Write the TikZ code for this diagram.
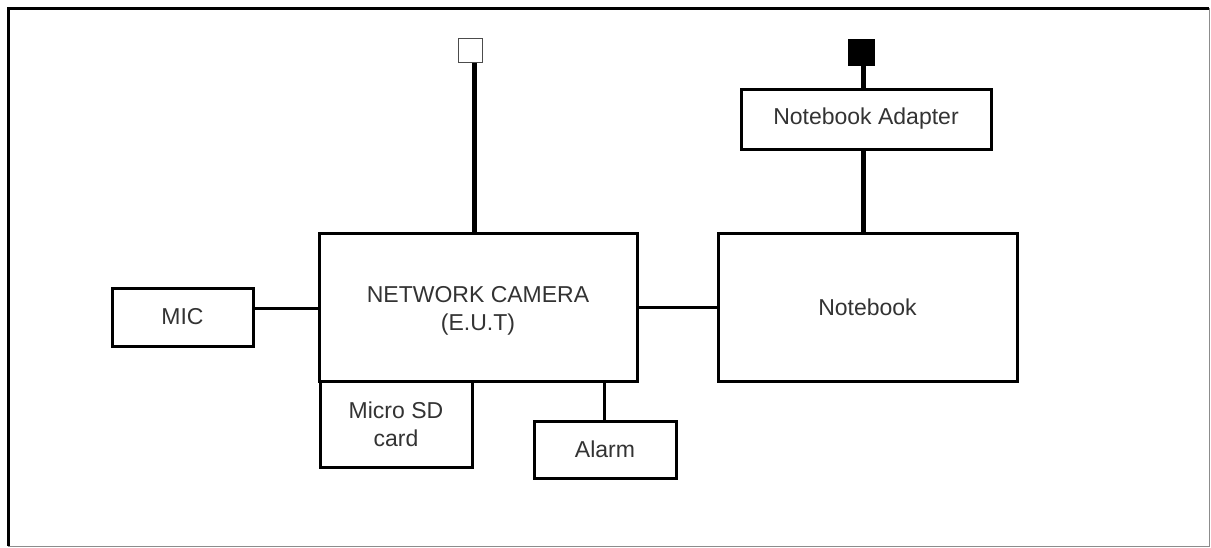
\documentclass[tikz,border=0pt]{standalone}
\usepackage{fontspec}
\setmainfont{Liberation Sans}
\begin{document}
\begin{tikzpicture}[x=1pt,y=-1pt,
  lbl/.style={text=black!80,font=\fontsize{23}{28}\selectfont,align=center},
  blk/.style={lbl,draw=black,line width=3pt,fill=white,inner sep=0pt},
  thinline/.style={line width=3pt},
  thickline/.style={line width=5pt}]
\useasboundingbox (0,0) rectangle (1211,547);
% outer frame
\draw[black!45,line width=1pt] (1209,8) -- (1209,546) -- (8,546);
\draw[black,line width=3pt] (8,546) -- (8,8) -- (1209,8);
% blocks
\node[blk,minimum width=318pt,minimum height=148pt] (cam) at (478,307) {};
\node[lbl] (camtxt) at (478,311) {NETWORK CAMERA\\(E.U.T)};
\node[blk,minimum width=141pt,minimum height=58pt] (mic) at (182.5,317) {MIC};
\node[blk,minimum width=299pt,minimum height=148pt] (nb) at (867.5,307) {Notebook};
\node[blk,minimum width=152pt,minimum height=86pt] (sd) at (396,424) {Micro SD\\card};
\node[blk,minimum width=142pt,minimum height=57pt] (alarm) at (605,449.5) {Alarm};
\node[blk,minimum width=250pt,minimum height=60pt] (adapter) at (866,119) {Notebook Adapter};
\node[draw=black!70,line width=1.5pt,fill=white,minimum size=24pt,inner sep=0pt] (ant) at (470.5,50.5) {};
\node[draw=black,fill=black,line width=1pt,minimum size=26pt,inner sep=0pt] (plug) at (861.5,52) {};
% connectors
\draw[thinline] ([yshift=9pt]mic.east) -- ([yshift=9pt]mic.east -| cam.west);
\draw[thinline] (cam.east) -- (nb.west);
\draw[thinline] ([xshift=-1pt]alarm.north) -- ([xshift=-1pt]alarm.north |- cam.south);
\draw[thickline] ([xshift=3.5pt]ant.south) -- ([xshift=3.5pt]ant.south |- cam.north);
\draw[thickline] ([xshift=1.5pt]plug.south) -- ([xshift=1.5pt]plug.south |- adapter.north);
\draw[thickline] ([xshift=-3pt]adapter.south) -- ([xshift=-3pt]adapter.south |- nb.north);
\end{tikzpicture}
\end{document}
